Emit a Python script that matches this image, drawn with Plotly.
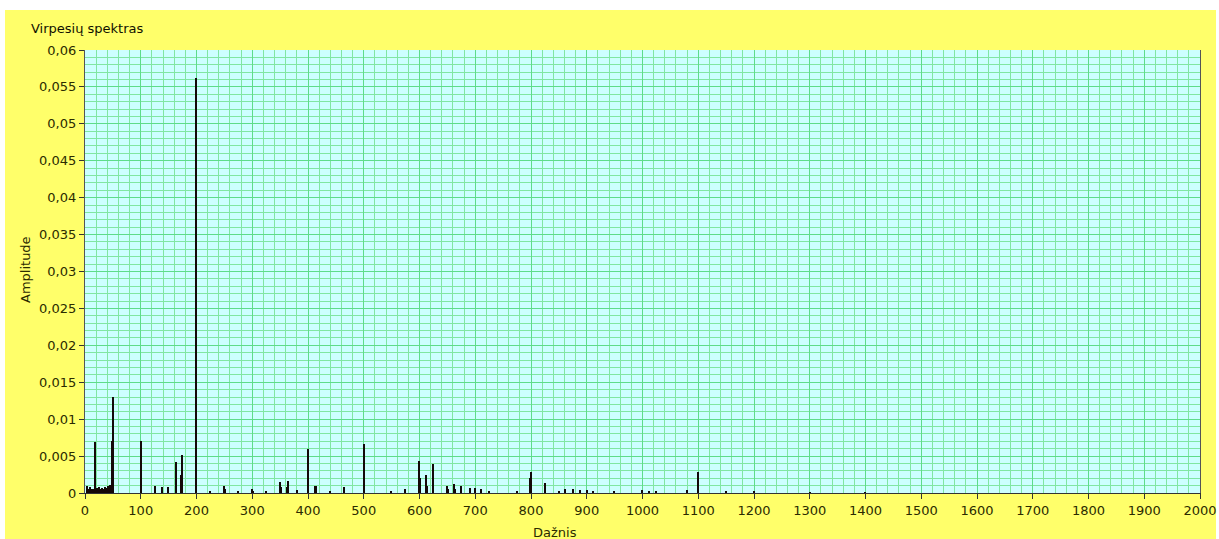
import plotly.graph_objects as go

# Spectrum peaks (frequency, amplitude)
freq = [3, 6, 10, 12, 15, 18, 19, 21, 23, 26, 28, 31, 33, 36, 38, 41, 44, 46, 49, 50,
        100, 101, 125, 126, 138, 150, 163, 173, 175, 199, 200, 225, 250, 251, 275, 300, 301,
        325, 350, 352, 363, 365, 380, 400, 401, 412, 415, 440, 465, 500, 501, 550, 575,
        600, 601, 612, 613, 624, 625, 650, 651, 663, 664, 675, 690, 700, 710, 725, 775,
        799, 800, 825, 826, 850, 862, 875, 888, 900, 912, 950, 1000, 1012, 1025, 1080,
        1100, 1150, 1200, 1300, 1400]
amp = [0.0009, 0.0006, 0.0008, 0.0005, 0.0006, 0.0069, 0.0035, 0.0007, 0.0006, 0.0008,
       0.0005, 0.0007, 0.0006, 0.0008, 0.0007, 0.0010, 0.0008, 0.0011, 0.0070, 0.0130,
       0.0070, 0.0035, 0.0010, 0.0006, 0.0008, 0.0008, 0.0042, 0.0025, 0.0052, 0.0365, 0.0562,
       0.0003, 0.0010, 0.0006, 0.0003, 0.0006, 0.0003, 0.0002, 0.0015, 0.0008, 0.0008,
       0.0016, 0.0004, 0.0060, 0.0033, 0.0010, 0.0010, 0.0003, 0.0008, 0.0067, 0.0035,
       0.0003, 0.0005, 0.0043, 0.0020, 0.0024, 0.0010, 0.0025, 0.0039, 0.0010, 0.0005,
       0.0012, 0.0006, 0.0010, 0.0007, 0.0007, 0.0006, 0.0003, 0.0003, 0.0020, 0.0028,
       0.0014, 0.0008, 0.0003, 0.0005, 0.0005, 0.0004, 0.0004, 0.0003, 0.0002, 0.0004,
       0.0003, 0.0002, 0.0004, 0.0029, 0.0002, 0.0002, 0.0001, 0.0001]

x_ticks = list(range(0, 2001, 100))
y_ticks = [0, 0.005, 0.01, 0.015, 0.02, 0.025, 0.03, 0.035, 0.04, 0.045, 0.05, 0.055, 0.06]
y_labels = ["0", "0,005", "0,01", "0,015", "0,02", "0,025", "0,03", "0,035",
            "0,04", "0,045", "0,05", "0,055", "0,06"]

W, H = 1219, 539
L, R, T, B = 85, 1200, 50, 493
pw, ph = R - L, B - T

def px_x(p):
    return (p - L) / pw

def px_y(p):
    return (B - p) / ph

txt = "#2b2b00"
fam = "DejaVu Sans, Verdana, sans-serif"
font = dict(family=fam, size=13, color=txt)

fig = go.Figure()
fig.add_trace(go.Bar(x=freq, y=amp, width=2.4, marker=dict(color="#140808", line=dict(width=0)),
                     showlegend=False))

fig.update_layout(
    width=W, height=H, autosize=False,
    margin=dict(l=L, r=W - R, t=T, b=H - B, pad=0, autoexpand=False),
    paper_bgcolor="white",
    plot_bgcolor="rgba(0,0,0,0)",
    font=font,
    bargap=0,
    shapes=[
        dict(type="rect", xref="paper", yref="paper", layer="below",
             x0=px_x(5), x1=px_x(1216), y0=px_y(545), y1=px_y(10),
             fillcolor="#FFFF6A", line=dict(width=0)),
        dict(type="rect", xref="paper", yref="paper", layer="below",
             x0=0, x1=1, y0=0, y1=1,
             fillcolor="#CCFFFF", line=dict(width=0)),
    ],
    xaxis=dict(
        range=[0, 2000], tickmode="array", tickvals=x_ticks, ticktext=[str(v) for v in x_ticks],
        showgrid=True, gridcolor="#5EDC8A", gridwidth=1.3,
        minor=dict(dtick=20, tick0=0, showgrid=True, gridcolor="#80E6A2", gridwidth=1),
        ticks="outside", ticklen=5, tickcolor="#333333",
        showline=True, linecolor="#333333", linewidth=1.2, mirror=False,
        zeroline=False, automargin=False, tickfont=dict(family=fam, size=13, color=txt),
    ),
    yaxis=dict(
        range=[0, 0.06], tickmode="array", tickvals=y_ticks, ticktext=y_labels,
        showgrid=True, gridcolor="#5EDC8A", gridwidth=1.3,
        minor=dict(dtick=0.001, tick0=0, showgrid=True, gridcolor="#80E6A2", gridwidth=1),
        ticks="outside", ticklen=5, tickcolor="#333333",
        showline=True, linecolor="#555555", linewidth=1.2, mirror=True,
        zeroline=False, automargin=False, tickfont=dict(family=fam, size=13, color=txt),
    ),
    annotations=[
        dict(text="Virpesių spektras", xref="paper", yref="paper",
             x=px_x(29), y=px_y(28), xanchor="left", yanchor="middle",
             showarrow=False, font=dict(family=fam, size=13, color="#111100")),
        dict(text="Amplitude", xref="paper", yref="paper", textangle=-90,
             x=px_x(25), y=px_y(270), xanchor="center", yanchor="middle",
             showarrow=False, font=dict(family=fam, size=13, color=txt)),
        dict(text="Dažnis", xref="paper", yref="paper",
             x=px_x(555), y=px_y(532), xanchor="center", yanchor="middle",
             showarrow=False, font=dict(family=fam, size=13, color=txt)),
    ],
)

fig.write_html("out.html")
